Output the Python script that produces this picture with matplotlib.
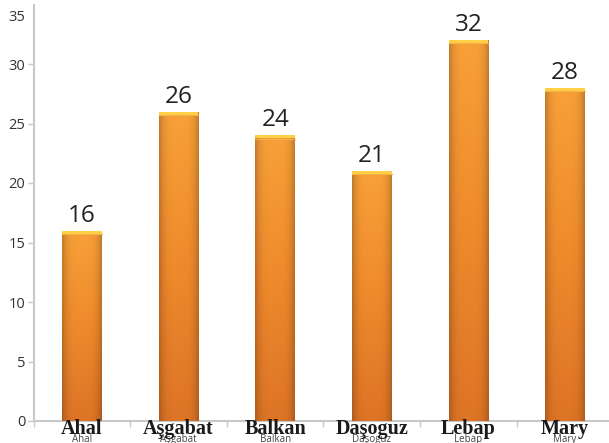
import numpy as np
import matplotlib
matplotlib.use("Agg")
import matplotlib.pyplot as plt
import matplotlib.transforms as mtransforms
from matplotlib.colors import LinearSegmentedColormap

# ── Data ──
regions = ["Ahal", "Aşgabat", "Balkan", "Daşoguz", "Lebap", "Mary"]
values = [16, 26, 24, 21, 32, 28]
y_ticks = [0, 5, 10, 15, 20, 25, 30, 35]

# ── Colors ──
AXIS = "#c8c8c8"
FG = "#222222"
TICK_FG = "#333333"
TOP_CAP = "#ffd044"

fig = plt.figure(figsize=(6.09, 4.43), dpi=100)
fig.patch.set_facecolor("white")
ax = fig.add_axes([33.7 / 609, 22 / 443, 579.6 / 609, 416.5 / 443])

x = np.arange(len(regions))
bar_w = 0.41
bars = ax.bar(x, values, width=bar_w, color="#ee8a2c", edgecolor="none", zorder=2)

# vertical gradient (lighter on top, darker at the bottom) + side shading
grad_cmap = LinearSegmentedColormap.from_list("bar", ["#dd7426", "#ef8a2c", "#f8a038"])
for bar in bars:
    x0, w, h = bar.get_x(), bar.get_width(), bar.get_height()
    vert = np.linspace(0, 1, 200)[:, None]
    horiz = 1 - 0.22 * np.abs(np.linspace(-1, 1, 60))[None, :] ** 4
    img = vert * np.ones((1, 60))
    rgb = grad_cmap(img)[..., :3] * horiz[..., None]
    im = ax.imshow(rgb, extent=[x0, x0 + w, 0, h], origin="lower",
                   aspect="auto", zorder=3)
    im.set_clip_path(bar)
    # yellow highlight at the top of each bar
    ax.fill_between([x0, x0 + w], h - 0.25, h, color=TOP_CAP, lw=0, zorder=4)
    ax.plot([x0, x0 + w], [h - 0.27, h - 0.27], color="#f5b04a", lw=0.8, zorder=4)

# value labels
for xi, v in zip(x, values):
    ax.text(xi, v + 0.25, f"{v}", ha="center", va="bottom", fontsize=17.5,
            color=FG, family="Open Sans")

ax.set_xlim(-0.5, len(regions) - 0.5)
ax.set_ylim(0, 35)
ax.set_yticks(y_ticks)
ax.tick_params(axis="y", length=4, width=1, color=AXIS, labelsize=10.5,
               labelcolor=TICK_FG, pad=2)
for lbl in ax.get_yticklabels():
    lbl.set_family("Open Sans")
# top label sits a bit lower in the reference, without a tick mark
top_lbl = ax.get_yticklabels()[-1]
top_lbl.set_transform(top_lbl.get_transform() +
                      mtransforms.ScaledTranslation(0, -11 / 100, fig.dpi_scale_trans))
ax.yaxis.get_major_ticks()[-1].tick1line.set_visible(False)

# category boundaries as x ticks, names as text
ax.set_xticks(np.arange(len(regions) + 1) - 0.5)
ax.set_xticklabels([])
ax.tick_params(axis="x", length=4, width=1, color=AXIS)
for xi, name in zip(x, regions):
    ax.annotate(name, xy=(xi, 0), xycoords=("data", "axes fraction"),
                xytext=(0, 1.5), textcoords="offset points",
                ha="center", va="top", fontsize=14.5, fontweight="bold",
                family="Liberation Serif", color="#1a1a1a",
                annotation_clip=False, zorder=5)
    ax.annotate(name, xy=(xi, 0), xycoords=("data", "axes fraction"),
                xytext=(0, -9.5), textcoords="offset points",
                ha="center", va="top", fontsize=7, color="#444444",
                family="Open Sans", annotation_clip=False)

for side in ["top", "right"]:
    ax.spines[side].set_visible(False)
for side in ["left", "bottom"]:
    ax.spines[side].set_color(AXIS)
    ax.spines[side].set_linewidth(1.5)

fig.savefig("out.png", dpi=100, facecolor="white")
